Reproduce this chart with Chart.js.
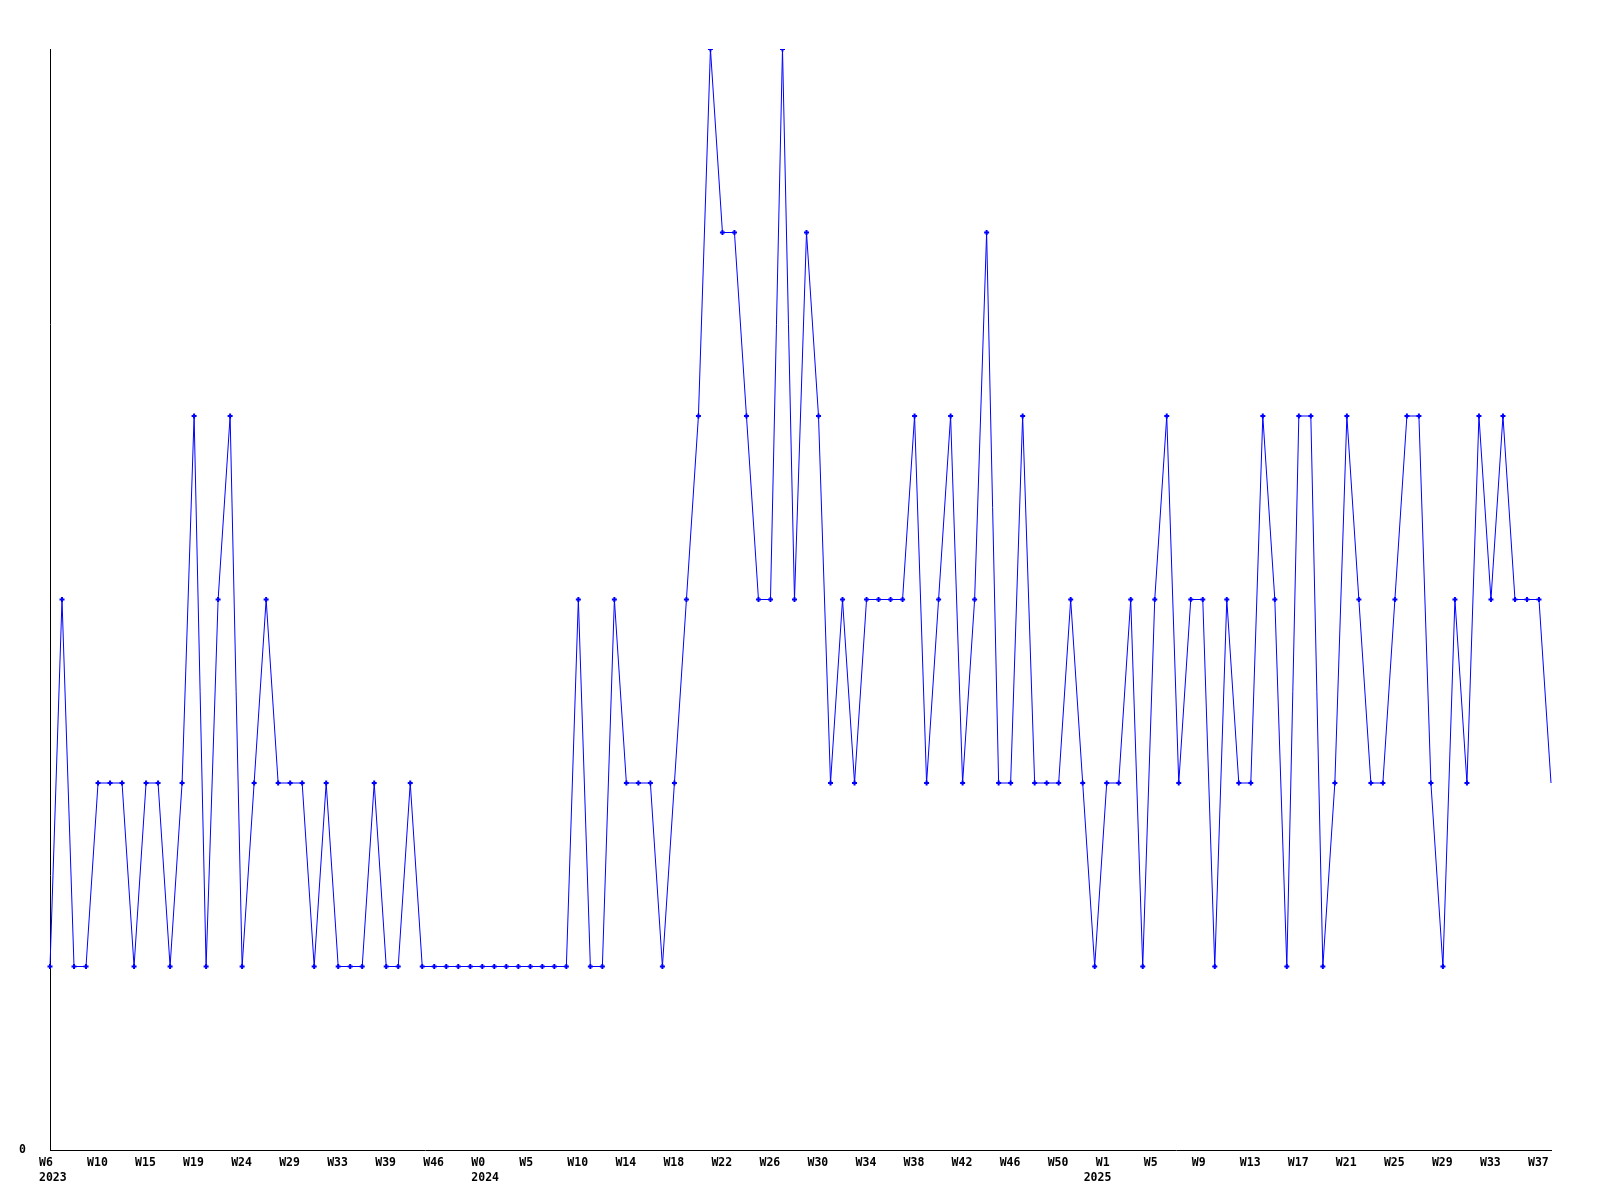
<!DOCTYPE html>
<html>
<head>
<meta charset="utf-8">
<script src="https://cdn.jsdelivr.net/npm/chart.js@4/dist/chart.umd.min.js"></script>
<style>
  html, body { margin: 0; padding: 0; background: #fff; }
  #wrap { width: 1600px; height: 1200px; }
</style>
</head>
<body>
<div id="wrap"><canvas id="myChart" width="1600" height="1200"></canvas></div>
<script>
// weekly values, one per point (2023 W6 .. 2025 W37)
var weekValues = [
  1, 3, 1, 1, 2, 2, 2, 1, 2, 2, 1, 2, 4, 1, 3, 4, 1, 2, 3, 2, 2, 2, 1, 2, 1, 1, 1, 2, 1, 1, 2, 1, 1, 1,
  1, 1, 1, 1, 1, 1, 1, 1, 1, 1,
  3, 1, 1, 3, 2, 2, 2,
  1, 2, 3, 4, 6, 5, 5, 4, 3, 3, 6, 3, 5, 4, 2, 3, 2, 3, 3, 3, 3, 4, 2, 3, 4,
  2, 3, 5, 2, 2, 4, 2, 2, 2, 3, 2, 1, 2, 2, 3, 1, 3, 4, 2, 3, 3, 1, 3, 2,
  2, 4, 3, 1, 4, 4, 1, 2, 4, 3, 2, 2, 3, 4, 4, 2, 1, 3, 2, 4, 3, 4, 3, 3, 3, 2,
];

// labels shown under every 4th point
var tickLabels = [
  "W6", "W10", "W15", "W19", "W24", "W29", "W33", "W39", "W46", "W0", "W5",
  "W10", "W14", "W18", "W22", "W26", "W30", "W34", "W38", "W42", "W46", "W50",
  "W1", "W5", "W9", "W13", "W17", "W21", "W25", "W29", "W33", "W37",
];
// year names on the second row, and the point each one sits under
var yearNames = ["2023", "2024", "2025"];
var yearIndex = [0, 36, 87];

var categories = weekValues.map(function (v, i) { return i; });
var lastIndex = weekValues.length - 1;

var labelFont = { family: "DejaVu Sans Mono", size: 11.5, weight: "bold", lineHeight: 1.3 };

var ctx = document.getElementById("myChart").getContext("2d");
var myChart = new Chart(ctx, {
  type: "line",
  data: {
    labels: categories,
    datasets: [
      {
        data: weekValues,
        borderColor: "#0000ff",
        backgroundColor: "#0000ff",
        borderWidth: 1,
        tension: 0,
        fill: false,
        pointStyle: "cross",
        pointRadius: function (c) { return c.dataIndex === lastIndex ? 0 : 2.5; },
        pointBorderWidth: 2,
        pointBorderColor: "#0000ff",
      },
    ],
  },
  options: {
    responsive: false,
    animation: false,
    layout: { padding: { top: 49, right: 49, left: 0, bottom: 0 } },
    plugins: {
      legend: { display: false },
      tooltip: { enabled: false },
    },
    scales: {
      x: {
        offset: false,
        grid: { display: false },
        border: { display: true, color: "#000", width: 1 },
        ticks: {
          autoSkip: false,
          maxRotation: 0,
          minRotation: 0,
          align: "start",
          labelOffset: -11,
          padding: -2,
          color: "#000",
          font: labelFont,
          callback: function (val, index) {
            var week = index % 4 === 0 ? tickLabels[index / 4] : "";
            var y = yearIndex.indexOf(index);
            if (y >= 0) return [week, yearNames[y]];
            return week;
          },
        },
        afterFit: function (scale) { scale.height = 50; },
      },
      y: {
        min: 0,
        max: 6,
        grid: { display: false },
        border: { display: true, color: "#000", width: 1 },
        ticks: {
          stepSize: 1,
          padding: 16,
          color: "#000",
          font: labelFont,
          callback: function (v) { return v === 0 ? "0" : null; },
        },
        afterFit: function (scale) { scale.width = 50; },
      },
    },
  },
});
</script>
</body>
</html>
